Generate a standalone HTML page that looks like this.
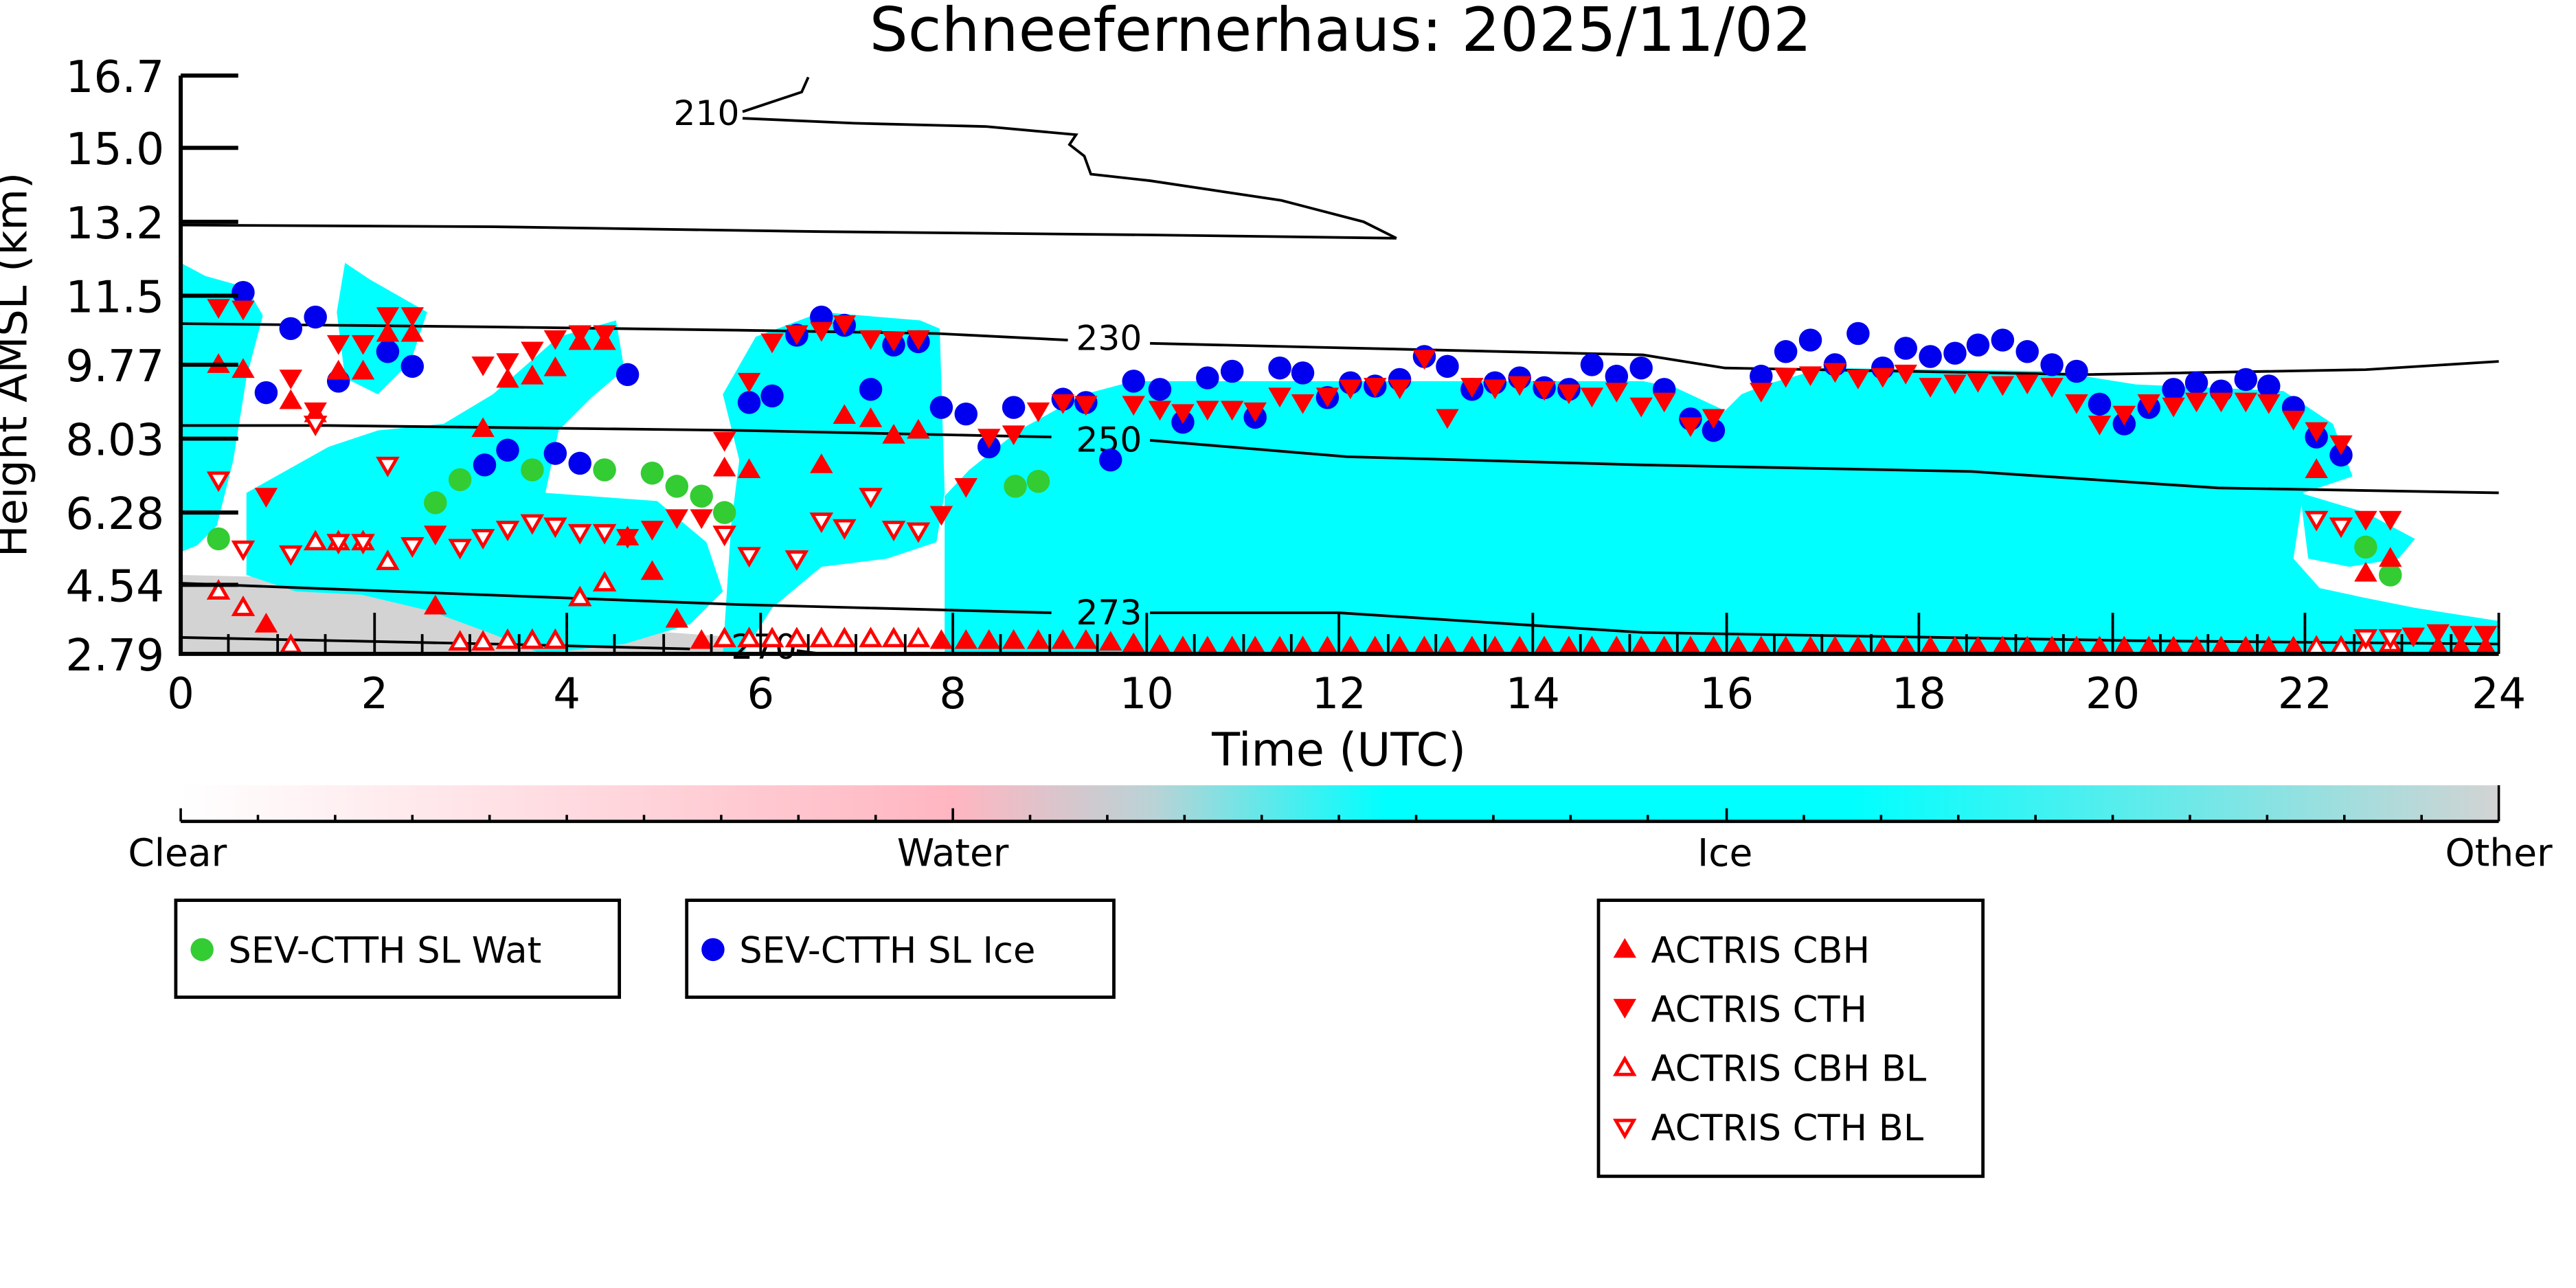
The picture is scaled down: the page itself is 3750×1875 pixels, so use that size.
<!DOCTYPE html>
<html><head><meta charset="utf-8"><style>
html,body{margin:0;padding:0;background:#fff;}
svg{display:block;}
text{font-family:"DejaVu Sans","Liberation Sans",sans-serif;fill:#000;}
</style></head><body>
<svg width="3750" height="1875" viewBox="0 0 1568 784" xmlns="http://www.w3.org/2000/svg">
<defs>
<linearGradient id="cb" x1="0" x2="1" y1="0" y2="0">
<stop offset="0" stop-color="#ffffff"/>
<stop offset="0.333" stop-color="#ffb6c1"/>
<stop offset="0.42" stop-color="#b9d3d6"/>
<stop offset="0.52" stop-color="#00ffff"/>
<stop offset="0.72" stop-color="#00ffff"/>
<stop offset="1" stop-color="#d3d3d3"/>
</linearGradient>
<path id="up" d="M0,-7 L7,5 L-7,5 Z" fill="#f00"/>
<path id="dn" d="M0,7 L7,-5 L-7,-5 Z" fill="#f00"/>
<path id="uph" d="M0,-5.5 L5.5,4 L-5.5,4 Z" fill="#fff" stroke="#f00" stroke-width="2"/>
<path id="dnh" d="M0,5.5 L5.5,-4 L-5.5,-4 Z" fill="#fff" stroke="#f00" stroke-width="2"/>
<circle id="bc" r="7" fill="#0000ee"/>
<circle id="gc" r="7" fill="#33cc33"/>
</defs>

<text x="816" y="31" font-size="37" text-anchor="middle">Schneefernerhaus: 2025/11/02</text>

<!-- clouds -->
<polygon fill="#d3d3d3" points="110,350 200,352 260,358 300,368 330,378 380,383 450,388 450,398 110,398"/>
<polygon fill="#ffc0cb" opacity="0.7" points="300,378 330,372 360,380 350,392 310,394"/>
<polygon fill="#00ffff" points="110,160 125,168 150,175 160,192 150,230 142,280 132,320 120,332 110,336"/>
<polygon fill="#00ffff" points="150,300 200,272 230,262 270,258 300,240 340,205 375,195 380,225 360,242 340,262 332,300 400,305 430,330 440,360 420,380 380,392 330,398 300,386 262,372 220,362 180,360 150,350"/>
<polygon fill="#00ffff" points="210,160 225,170 260,190 250,220 230,240 210,230 205,190"/>
<polygon fill="#00ffff" points="440,240 460,205 500,190 560,195 572,200 575,300 570,330 540,340 500,345 470,370 452,398 440,398 445,320 450,280"/>
<polygon fill="#00ffff" points="575,398 575,302 590,286 620,262 660,240 690,232 1000,232 1020,236 1050,250 1060,240 1075,234 1110,224 1250,226 1300,234 1390,238 1420,258 1432,290 1402,300 1396,340 1412,358 1440,364 1470,370 1521,378 1521,398"/>
<polygon fill="#00ffff" points="1400,300 1440,312 1470,328 1460,340 1430,345 1405,340"/>

<!-- contours -->
<g fill="none" stroke="#000" stroke-width="1.6">
<path d="M452,68 L488,56 L492,47"/>
<path d="M452,72 L520,75 L600,77 L655,82 L651,88 L660,95 L664,106 L700,110 L780,122 L830,135 L850,145"/>
<path d="M110,137 L300,138 L500,141 L700,143 L850,145"/>
<path d="M110,197 L300,199 L450,201 L570,203 L650,207 M700,209 L1000,216 L1050,224 L1270,228 L1440,225 L1521,220"/>
<path d="M110,259 L200,259 L450,262 L640,266 M700,268 L820,278 L1000,283 L1200,287 L1350,297 L1521,300"/>
<path d="M110,355 L450,368 L640,373 M700,373 L815,373 L1000,385 L1300,390 L1521,392"/>
<path d="M110,388 L300,392 L420,395 M485,396 L500,398"/>
</g>
<g font-size="21">
<text x="410" y="76">210</text>
<text x="655" y="213">230</text>
<text x="655" y="275">250</text>
<text x="655" y="380">273</text>
<text x="445" y="401">270</text>
</g>

<!-- markers: blue -->
<g>
<use href="#bc" x="148" y="178"/><use href="#bc" x="177" y="200"/><use href="#bc" x="192" y="193"/><use href="#bc" x="162" y="239"/><use href="#bc" x="206" y="232"/><use href="#bc" x="236" y="214"/><use href="#bc" x="251" y="223"/><use href="#bc" x="295" y="283"/><use href="#bc" x="309" y="274"/><use href="#bc" x="338" y="276"/><use href="#bc" x="353" y="282"/><use href="#bc" x="382" y="228"/><use href="#bc" x="456" y="245"/><use href="#bc" x="470" y="241"/><use href="#bc" x="485" y="204"/><use href="#bc" x="500" y="193"/><use href="#bc" x="514" y="198"/><use href="#bc" x="530" y="237"/><use href="#bc" x="544" y="210"/><use href="#bc" x="559" y="208"/><use href="#bc" x="573" y="248"/><use href="#bc" x="588" y="252"/><use href="#bc" x="602" y="272"/><use href="#bc" x="617" y="248"/><use href="#bc" x="647" y="243"/><use href="#bc" x="661" y="245"/><use href="#bc" x="676" y="280"/><use href="#bc" x="690" y="232"/><use href="#bc" x="706" y="237"/><use href="#bc" x="720" y="257"/><use href="#bc" x="735" y="230"/><use href="#bc" x="750" y="226"/><use href="#bc" x="764" y="254"/><use href="#bc" x="779" y="224"/><use href="#bc" x="793" y="227"/><use href="#bc" x="808" y="242"/><use href="#bc" x="822" y="233"/><use href="#bc" x="837" y="235"/><use href="#bc" x="852" y="231"/><use href="#bc" x="867" y="217"/><use href="#bc" x="881" y="223"/><use href="#bc" x="896" y="237"/><use href="#bc" x="910" y="233"/><use href="#bc" x="925" y="230"/><use href="#bc" x="940" y="236"/><use href="#bc" x="955" y="237"/><use href="#bc" x="969" y="222"/><use href="#bc" x="984" y="229"/><use href="#bc" x="999" y="224"/><use href="#bc" x="1013" y="237"/><use href="#bc" x="1029" y="255"/><use href="#bc" x="1043" y="262"/><use href="#bc" x="1072" y="229"/><use href="#bc" x="1087" y="214"/><use href="#bc" x="1102" y="207"/><use href="#bc" x="1117" y="222"/><use href="#bc" x="1131" y="203"/><use href="#bc" x="1146" y="224"/><use href="#bc" x="1160" y="212"/><use href="#bc" x="1175" y="217"/><use href="#bc" x="1190" y="215"/><use href="#bc" x="1204" y="210"/><use href="#bc" x="1219" y="207"/><use href="#bc" x="1234" y="214"/><use href="#bc" x="1249" y="222"/><use href="#bc" x="1264" y="226"/><use href="#bc" x="1278" y="246"/><use href="#bc" x="1293" y="258"/><use href="#bc" x="1308" y="248"/><use href="#bc" x="1323" y="237"/><use href="#bc" x="1337" y="233"/><use href="#bc" x="1352" y="238"/><use href="#bc" x="1367" y="231"/><use href="#bc" x="1381" y="235"/><use href="#bc" x="1396" y="248"/><use href="#bc" x="1410" y="266"/><use href="#bc" x="1425" y="277"/>
</g>
<g>
<use href="#gc" x="133" y="328"/><use href="#gc" x="265" y="306"/><use href="#gc" x="280" y="292"/><use href="#gc" x="324" y="286"/><use href="#gc" x="368" y="286"/><use href="#gc" x="397" y="288"/><use href="#gc" x="412" y="296"/><use href="#gc" x="427" y="302"/><use href="#gc" x="441" y="312"/><use href="#gc" x="618" y="296"/><use href="#gc" x="632" y="293"/><use href="#gc" x="1440" y="333"/><use href="#gc" x="1455" y="350"/>
</g>
<!-- CTH filled -->
<g>
<use href="#dn" x="133" y="187"/><use href="#dn" x="148" y="188"/><use href="#dn" x="177" y="230"/><use href="#dn" x="192" y="250"/><use href="#dn" x="206" y="209"/><use href="#dn" x="221" y="209"/><use href="#dn" x="236" y="192"/><use href="#dn" x="251" y="192"/><use href="#dn" x="162" y="302"/><use href="#dn" x="265" y="325"/><use href="#dn" x="294" y="222"/><use href="#dn" x="309" y="220"/><use href="#dn" x="324" y="213"/><use href="#dn" x="338" y="206"/><use href="#dn" x="353" y="203"/><use href="#dn" x="368" y="203"/><use href="#dn" x="382" y="327"/><use href="#dn" x="397" y="322"/><use href="#dn" x="412" y="315"/><use href="#dn" x="427" y="315"/><use href="#dn" x="441" y="268"/><use href="#dn" x="456" y="232"/><use href="#dn" x="470" y="208"/><use href="#dn" x="485" y="203"/><use href="#dn" x="500" y="201"/><use href="#dn" x="514" y="197"/><use href="#dn" x="530" y="206"/><use href="#dn" x="544" y="207"/><use href="#dn" x="559" y="206"/><use href="#dn" x="573" y="313"/><use href="#dn" x="588" y="296"/><use href="#dn" x="602" y="266"/><use href="#dn" x="617" y="264"/><use href="#dn" x="632" y="250"/><use href="#dn" x="647" y="245"/><use href="#dn" x="661" y="246"/><use href="#dn" x="690" y="246"/><use href="#dn" x="706" y="249"/><use href="#dn" x="720" y="251"/><use href="#dn" x="735" y="249"/><use href="#dn" x="750" y="249"/><use href="#dn" x="764" y="250"/><use href="#dn" x="779" y="241"/><use href="#dn" x="793" y="245"/><use href="#dn" x="808" y="241"/><use href="#dn" x="822" y="236"/><use href="#dn" x="837" y="235"/><use href="#dn" x="852" y="236"/><use href="#dn" x="867" y="218"/><use href="#dn" x="881" y="254"/><use href="#dn" x="896" y="235"/><use href="#dn" x="910" y="236"/><use href="#dn" x="925" y="234"/><use href="#dn" x="940" y="237"/><use href="#dn" x="955" y="239"/><use href="#dn" x="969" y="241"/><use href="#dn" x="984" y="238"/><use href="#dn" x="999" y="247"/><use href="#dn" x="1013" y="244"/><use href="#dn" x="1029" y="259"/><use href="#dn" x="1043" y="254"/><use href="#dn" x="1072" y="238"/><use href="#dn" x="1087" y="229"/><use href="#dn" x="1102" y="228"/><use href="#dn" x="1117" y="226"/><use href="#dn" x="1131" y="230"/><use href="#dn" x="1146" y="229"/><use href="#dn" x="1160" y="227"/><use href="#dn" x="1175" y="235"/><use href="#dn" x="1190" y="233"/><use href="#dn" x="1204" y="232"/><use href="#dn" x="1219" y="234"/><use href="#dn" x="1234" y="233"/><use href="#dn" x="1249" y="235"/><use href="#dn" x="1264" y="245"/><use href="#dn" x="1278" y="258"/><use href="#dn" x="1293" y="252"/><use href="#dn" x="1308" y="245"/><use href="#dn" x="1323" y="247"/><use href="#dn" x="1337" y="244"/><use href="#dn" x="1352" y="244"/><use href="#dn" x="1367" y="244"/><use href="#dn" x="1381" y="245"/><use href="#dn" x="1396" y="255"/><use href="#dn" x="1410" y="262"/><use href="#dn" x="1425" y="270"/><use href="#dn" x="1440" y="316"/><use href="#dn" x="1455" y="316"/><use href="#dn" x="1469" y="387"/><use href="#dn" x="1484" y="385"/><use href="#dn" x="1498" y="386"/><use href="#dn" x="1513" y="386"/>
</g>
<!-- CBH filled -->
<g>
<use href="#up" x="133" y="222"/><use href="#up" x="148" y="225"/><use href="#up" x="177" y="244"/><use href="#up" x="192" y="252"/><use href="#up" x="206" y="226"/><use href="#up" x="221" y="226"/><use href="#up" x="236" y="203"/><use href="#up" x="251" y="203"/><use href="#up" x="162" y="380"/><use href="#up" x="265" y="369"/><use href="#up" x="294" y="261"/><use href="#up" x="309" y="231"/><use href="#up" x="324" y="229"/><use href="#up" x="338" y="224"/><use href="#up" x="353" y="208"/><use href="#up" x="368" y="208"/><use href="#up" x="382" y="327"/><use href="#up" x="397" y="348"/><use href="#up" x="412" y="377"/><use href="#up" x="441" y="285"/><use href="#up" x="456" y="286"/><use href="#up" x="500" y="283"/><use href="#up" x="514" y="253"/><use href="#up" x="530" y="255"/><use href="#up" x="544" y="265"/><use href="#up" x="559" y="262"/><use href="#up" x="1410" y="286"/><use href="#up" x="1440" y="349"/><use href="#up" x="1455" y="340"/>
<use href="#up" x="427" y="390"/><use href="#up" x="573" y="390"/><use href="#up" x="588" y="390"/><use href="#up" x="602" y="390"/><use href="#up" x="617" y="390"/><use href="#up" x="632" y="390"/><use href="#up" x="647" y="390"/><use href="#up" x="661" y="390"/><use href="#up" x="676" y="391"/><use href="#up" x="690" y="392"/><use href="#up" x="706" y="393"/><use href="#up" x="720" y="394"/><use href="#up" x="735" y="394"/><use href="#up" x="750" y="394"/><use href="#up" x="764" y="394"/><use href="#up" x="779" y="394"/><use href="#up" x="793" y="394"/><use href="#up" x="808" y="394"/><use href="#up" x="822" y="394"/><use href="#up" x="837" y="394"/><use href="#up" x="852" y="394"/><use href="#up" x="867" y="394"/><use href="#up" x="881" y="394"/><use href="#up" x="896" y="394"/><use href="#up" x="910" y="394"/><use href="#up" x="925" y="394"/><use href="#up" x="940" y="394"/><use href="#up" x="955" y="394"/><use href="#up" x="969" y="394"/><use href="#up" x="984" y="394"/><use href="#up" x="999" y="394"/><use href="#up" x="1013" y="394"/><use href="#up" x="1029" y="394"/><use href="#up" x="1043" y="394"/><use href="#up" x="1058" y="394"/><use href="#up" x="1072" y="394"/><use href="#up" x="1087" y="394"/><use href="#up" x="1102" y="394"/><use href="#up" x="1117" y="394"/><use href="#up" x="1131" y="394"/><use href="#up" x="1146" y="394"/><use href="#up" x="1160" y="394"/><use href="#up" x="1175" y="394"/><use href="#up" x="1190" y="394"/><use href="#up" x="1204" y="394"/><use href="#up" x="1219" y="394"/><use href="#up" x="1234" y="394"/><use href="#up" x="1249" y="394"/><use href="#up" x="1264" y="394"/><use href="#up" x="1278" y="394"/><use href="#up" x="1293" y="394"/><use href="#up" x="1308" y="394"/><use href="#up" x="1323" y="394"/><use href="#up" x="1337" y="394"/><use href="#up" x="1352" y="394"/><use href="#up" x="1367" y="394"/><use href="#up" x="1381" y="394"/><use href="#up" x="1396" y="394"/><use href="#up" x="1484" y="394"/><use href="#up" x="1498" y="394"/><use href="#up" x="1513" y="394"/>
</g>
<!-- hollow -->
<g>
<use href="#uph" x="133" y="360"/><use href="#uph" x="148" y="370"/><use href="#uph" x="177" y="393"/><use href="#uph" x="236" y="342"/><use href="#uph" x="192" y="330"/><use href="#uph" x="206" y="330"/><use href="#uph" x="221" y="330"/><use href="#uph" x="353" y="364"/><use href="#uph" x="368" y="355"/><use href="#uph" x="280" y="391"/><use href="#uph" x="294" y="391"/><use href="#uph" x="309" y="390"/><use href="#uph" x="324" y="390"/><use href="#uph" x="338" y="390"/><use href="#uph" x="441" y="389"/><use href="#uph" x="456" y="389"/><use href="#uph" x="470" y="389"/><use href="#uph" x="485" y="389"/><use href="#uph" x="500" y="389"/><use href="#uph" x="514" y="389"/><use href="#uph" x="530" y="389"/><use href="#uph" x="544" y="389"/><use href="#uph" x="559" y="389"/><use href="#uph" x="1410" y="394"/><use href="#uph" x="1425" y="394"/><use href="#uph" x="1440" y="394"/><use href="#uph" x="1455" y="392"/>
<use href="#dnh" x="133" y="292"/><use href="#dnh" x="148" y="334"/><use href="#dnh" x="177" y="337"/><use href="#dnh" x="192" y="258"/><use href="#dnh" x="206" y="330"/><use href="#dnh" x="221" y="330"/><use href="#dnh" x="236" y="283"/><use href="#dnh" x="251" y="332"/><use href="#dnh" x="280" y="333"/><use href="#dnh" x="294" y="327"/><use href="#dnh" x="309" y="322"/><use href="#dnh" x="324" y="318"/><use href="#dnh" x="338" y="320"/><use href="#dnh" x="353" y="324"/><use href="#dnh" x="368" y="324"/><use href="#dnh" x="441" y="325"/><use href="#dnh" x="456" y="338"/><use href="#dnh" x="485" y="340"/><use href="#dnh" x="500" y="317"/><use href="#dnh" x="514" y="321"/><use href="#dnh" x="530" y="302"/><use href="#dnh" x="544" y="322"/><use href="#dnh" x="559" y="323"/><use href="#dnh" x="1410" y="316"/><use href="#dnh" x="1425" y="320"/><use href="#dnh" x="1440" y="388"/><use href="#dnh" x="1455" y="388"/>
</g>

<!-- axes -->
<g stroke="#000" stroke-width="2.5" fill="none">
<path d="M110,46 L110,398 L1521,398"/>
<path d="M110,46 H145 M110,90 H145 M110,135 H145 M110,180 H145 M110,222 H145 M110,267 H145 M110,312 H145 M110,356 H145"/>
</g>
<g stroke="#000" stroke-width="1.6">
<path d="M228,398 V373 M345,398 V373 M463,398 V373 M580,398 V373 M698,398 V373 M815,398 V373 M933,398 V373 M1051,398 V373 M1168,398 V373 M1286,398 V373 M1403,398 V373 M1521,398 V373"/>
<path d="M139,398 V386 M169,398 V386 M198,398 V386 M257,398 V386 M286,398 V386 M316,398 V386 M374,398 V386 M404,398 V386 M433,398 V386 M492,398 V386 M521,398 V386 M551,398 V386 M609,398 V386 M639,398 V386 M668,398 V386 M727,398 V386 M757,398 V386 M786,398 V386 M845,398 V386 M874,398 V386 M904,398 V386 M962,398 V386 M992,398 V386 M1021,398 V386 M1080,398 V386 M1109,398 V386 M1139,398 V386 M1197,398 V386 M1227,398 V386 M1256,398 V386 M1315,398 V386 M1344,398 V386 M1374,398 V386 M1433,398 V386 M1462,398 V386 M1492,398 V386"/>
</g>
<g font-size="27" text-anchor="end">
<text x="100" y="56">16.7</text><text x="100" y="100">15.0</text><text x="100" y="145">13.2</text><text x="100" y="190">11.5</text><text x="100" y="232">9.77</text><text x="100" y="277">8.03</text><text x="100" y="322">6.28</text><text x="100" y="366">4.54</text><text x="100" y="408">2.79</text>
</g>
<g font-size="26" text-anchor="middle">
<text x="110" y="431">0</text><text x="228" y="431">2</text><text x="345" y="431">4</text><text x="463" y="431">6</text><text x="580" y="431">8</text><text x="698" y="431">10</text><text x="815" y="431">12</text><text x="933" y="431">14</text><text x="1051" y="431">16</text><text x="1168" y="431">18</text><text x="1286" y="431">20</text><text x="1403" y="431">22</text><text x="1521" y="431">24</text>
</g>
<text x="815" y="466" font-size="28" text-anchor="middle">Time (UTC)</text>
<text transform="translate(16,222) rotate(-90)" font-size="26" text-anchor="middle">Height AMSL (km)</text>

<!-- colorbar -->
<rect x="110" y="478" width="1411" height="22" fill="url(#cb)"/>
<g stroke="#000" stroke-width="1.5">
<path d="M110,500 H1521" stroke-width="2"/>
<path d="M110,500 V492 M580,500 V492 M1051,500 V492 M1521,500 V478 M157,500 V496 M204,500 V496 M251,500 V496 M298,500 V496 M345,500 V496 M392,500 V496 M439,500 V496 M486,500 V496 M533,500 V496 M627,500 V496 M674,500 V496 M721,500 V496 M768,500 V496 M815,500 V496 M862,500 V496 M909,500 V496 M956,500 V496 M1003,500 V496 M1098,500 V496 M1145,500 V496 M1192,500 V496 M1239,500 V496 M1286,500 V496 M1333,500 V496 M1380,500 V496 M1427,500 V496 M1474,500 V496"/>
</g>
<g font-size="23" text-anchor="middle">
<text x="108" y="527">Clear</text><text x="580" y="527">Water</text><text x="1050" y="527">Ice</text><text x="1521" y="527">Other</text>
</g>

<!-- legends -->
<g fill="none" stroke="#000" stroke-width="2">
<rect x="107" y="548" width="270" height="59"/>
<rect x="418" y="548" width="260" height="59"/>
<rect x="973" y="548" width="234" height="168"/>
</g>
<use href="#gc" x="123" y="578"/>
<text x="139" y="586" font-size="22">SEV-CTTH SL Wat</text>
<use href="#bc" x="434" y="578"/>
<text x="450" y="586" font-size="22">SEV-CTTH SL Ice</text>
<use href="#up" x="989" y="578"/>
<text x="1005" y="586" font-size="22">ACTRIS CBH</text>
<use href="#dn" x="989" y="613"/>
<text x="1005" y="622" font-size="22">ACTRIS CTH</text>
<use href="#uph" x="989" y="650"/>
<text x="1005" y="658" font-size="22">ACTRIS CBH BL</text>
<use href="#dnh" x="989" y="686"/>
<text x="1005" y="694" font-size="22">ACTRIS CTH BL</text>
</svg>
</body></html>
